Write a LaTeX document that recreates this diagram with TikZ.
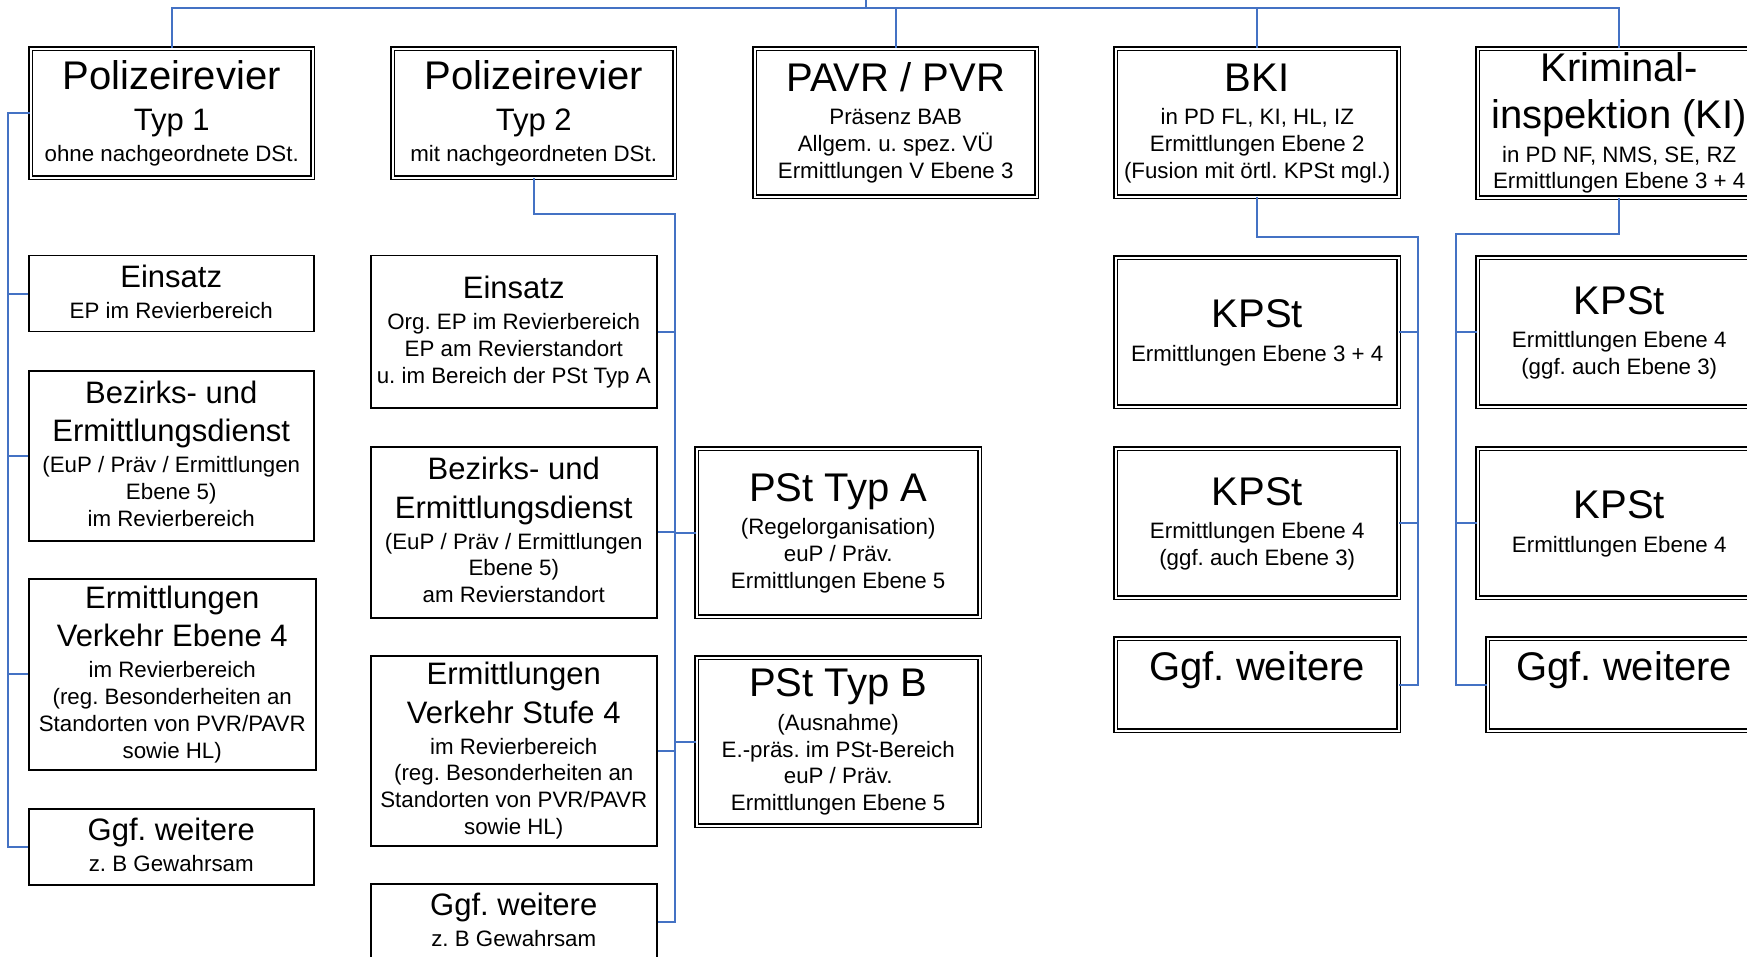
\documentclass[tikz,border=0pt]{standalone}
\usepackage{fontspec}
\setmainfont{Liberation Sans}
\usepackage{tikz}
\definecolor{linkblue}{RGB}{68,114,196}
\newcommand{\Tgross}[1]{{\fontsize{40}{46}\selectfont\strut #1}}
\newcommand{\Tmittel}[1]{{\fontsize{31}{37.2}\selectfont\strut #1}}
\newcommand{\Tklein}[1]{{\fontsize{22.3}{26.8}\selectfont\strut #1}}
\frenchspacing
\tikzset{
    box/.style={draw, line width=1.5pt, align=center, inner sep=0pt, anchor=north west, font=\fontsize{22.3}{26.8}\selectfont}, % 单线框
    dbox/.style={box, double, double distance=2pt, line width=1.4pt}, % 双线框
    sz/.style 2 args={minimum width=#1pt, minimum height=#2pt}, % 框的大小
    link/.style={draw=linkblue, line width=1.8pt} % 连线
}

\begin{document}
\begin{tikzpicture}[x=1pt, y=-1pt]
    \useasboundingbox (0,0) rectangle (1747,957);
    \clip (0,0) rectangle (1747,957);
    \fill[white] (0,0) rectangle (1747,957);

    % obere Reihe
    \node[dbox, sz={282}{129}] (rev1) at (30,48) {\Tgross{Polizeirevier}\\\Tmittel{Typ 1}\\\Tklein{ohne nachgeordnete DSt.}};
    \node[dbox, sz={282}{129}] (rev2) at (392,48) {\Tgross{Polizeirevier}\\\Tmittel{Typ 2}\\\Tklein{mit nachgeordneten DSt.}};
    \node[dbox, sz={282}{148}] (pavr) at (754,48) {\Tgross{PAVR / PVR}\\\Tklein{Präsenz BAB}\\\Tklein{Allgem. u. spez. VÜ}\\\Tklein{Ermittlungen V Ebene 3}};
    \node[dbox, sz={283}{148}] (bki) at (1115,48) {\Tgross{BKI}\\\Tklein{in PD FL, KI, HL, IZ}\\\Tklein{Ermittlungen Ebene 2}\\\Tklein{(Fusion mit örtl. KPSt mgl.)}};
    \node[dbox, sz={283}{149}] (ki) at (1477,48) {\Tgross{Kriminal-}\\\Tgross{inspektion (KI)}\\\Tklein{in PD NF, NMS, SE, RZ}\\\Tklein{Ermittlungen Ebene 3 + 4}};

    % Revier Typ 1
    \node[box, sz={285}{76}] (ein1) at (28,255) {\Tmittel{Einsatz}\\\Tklein{EP im Revierbereich}};
    \node[box, sz={285}{170}] (bez1) at (28,370) {\Tmittel{Bezirks- und}\\\Tmittel{Ermittlungsdienst}\\\Tklein{(EuP / Präv / Ermittlungen}\\\Tklein{Ebene 5)}\\\Tklein{im Revierbereich}};
    \node[box, sz={287}{191}] (erm1) at (28,578) {\Tmittel{Ermittlungen}\\\Tmittel{Verkehr Ebene 4}\\\Tklein{im Revierbereich}\\\Tklein{(reg. Besonderheiten an}\\\Tklein{Standorten von PVR/PAVR}\\\Tklein{sowie HL)}};
    \node[box, sz={285}{76}] (ggf1) at (28,808) {\Tmittel{Ggf. weitere}\\\Tklein{z. B Gewahrsam}};

    % Revier Typ 2
    \node[box, sz={286}{152}] (ein2) at (370,255) {\Tmittel{Einsatz}\\\Tklein{Org. EP im Revierbereich}\\\Tklein{EP am Revierstandort}\\\Tklein{u. im Bereich der PSt Typ A}};
    \node[box, sz={286}{171}] (bez2) at (370,446) {\Tmittel{Bezirks- und}\\\Tmittel{Ermittlungsdienst}\\\Tklein{(EuP / Präv / Ermittlungen}\\\Tklein{Ebene 5)}\\\Tklein{am Revierstandort}};
    \node[box, sz={286}{190}] (erm2) at (370,655) {\Tmittel{Ermittlungen}\\\Tmittel{Verkehr Stufe 4}\\\Tklein{im Revierbereich}\\\Tklein{(reg. Besonderheiten an}\\\Tklein{Standorten von PVR/PAVR}\\\Tklein{sowie HL)}};
    \node[box, sz={286}{76}] (ggf2) at (370,883) {\Tmittel{Ggf. weitere}\\\Tklein{z. B Gewahrsam}};
    \node[dbox, sz={283}{168}] (pstA) at (696,448) {\Tgross{PSt Typ A}\\\Tklein{(Regelorganisation)}\\\Tklein{euP / Präv.}\\\Tklein{Ermittlungen Ebene 5}};
    \node[dbox, sz={283}{168}] (pstB) at (696,657) {\Tgross{PSt Typ B}\\\Tklein{(Ausnahme)}\\\Tklein{E.-präs. im PSt-Bereich}\\\Tklein{euP / Präv.}\\\Tklein{Ermittlungen Ebene 5}};

    % BKI und KI
    \node[dbox, sz={283}{149}] (kp1) at (1115,257) {\Tgross{KPSt}\\\Tklein{Ermittlungen Ebene 3 + 4}};
    \node[dbox, sz={283}{149}] (kp2) at (1115,448) {\Tgross{KPSt}\\\Tklein{Ermittlungen Ebene 4}\\\Tklein{(ggf. auch Ebene 3)}};
    \node[dbox, sz={283}{92}] (ggf3) at (1115,638) {\Tgross{Ggf. weitere}\\\Tklein{}};
    \node[dbox, sz={283}{149}] (kp3) at (1477,257) {\Tgross{KPSt}\\\Tklein{Ermittlungen Ebene 4}\\\Tklein{(ggf. auch Ebene 3)}};
    \node[dbox, sz={283}{149}] (kp4) at (1477,448) {\Tgross{KPSt}\\\Tklein{Ermittlungen Ebene 4}};
    \node[dbox, sz={273}{92}] (ggf4) at (1487,638) {\Tgross{Ggf. weitere}\\\Tklein{}};

    \coordinate (root) at (866,0);
    \coordinate (bus) at (866,8);
    \coordinate (sp1) at (8,0);
    \coordinate (sp2) at (675,214);
    \coordinate (sp3) at (1418,237);
    \coordinate (sp4) at (1456,234);

    % Verbindungen
    \draw[link] (root) -- (bus);
    \draw[link] (rev1.north) |- (bus) -| (ki.north);
    \foreach \n in {pavr,bki} {\draw[link] (\n.north) -- (\n.north |- bus);}

    \draw[link] (rev1.west) -- (rev1.west -| sp1) |- (ggf1.west);
    \foreach \n in {ein1,bez1,erm1} {\draw[link] (\n.west) -- (\n.west -| sp1);}

    \draw[link] (rev2.south) |- (sp2) |- (ggf2.east);
    \foreach \n in {ein2,bez2,erm2} {\draw[link] (\n.east) -- (\n.east -| sp2);}
    \foreach \n in {pstA,pstB} {\draw[link] (\n.west) -- (\n.west -| sp2);}

    \draw[link] (bki.south) |- (sp3) |- (ggf3.east);
    \foreach \n in {kp1,kp2} {\draw[link] (\n.east) -- (\n.east -| sp3);}

    \draw[link] (ki.south) |- (sp4) |- (ggf4.west);
    \foreach \n in {kp3,kp4} {\draw[link] (\n.west) -- (\n.west -| sp4);}
\end{tikzpicture}
\end{document}
